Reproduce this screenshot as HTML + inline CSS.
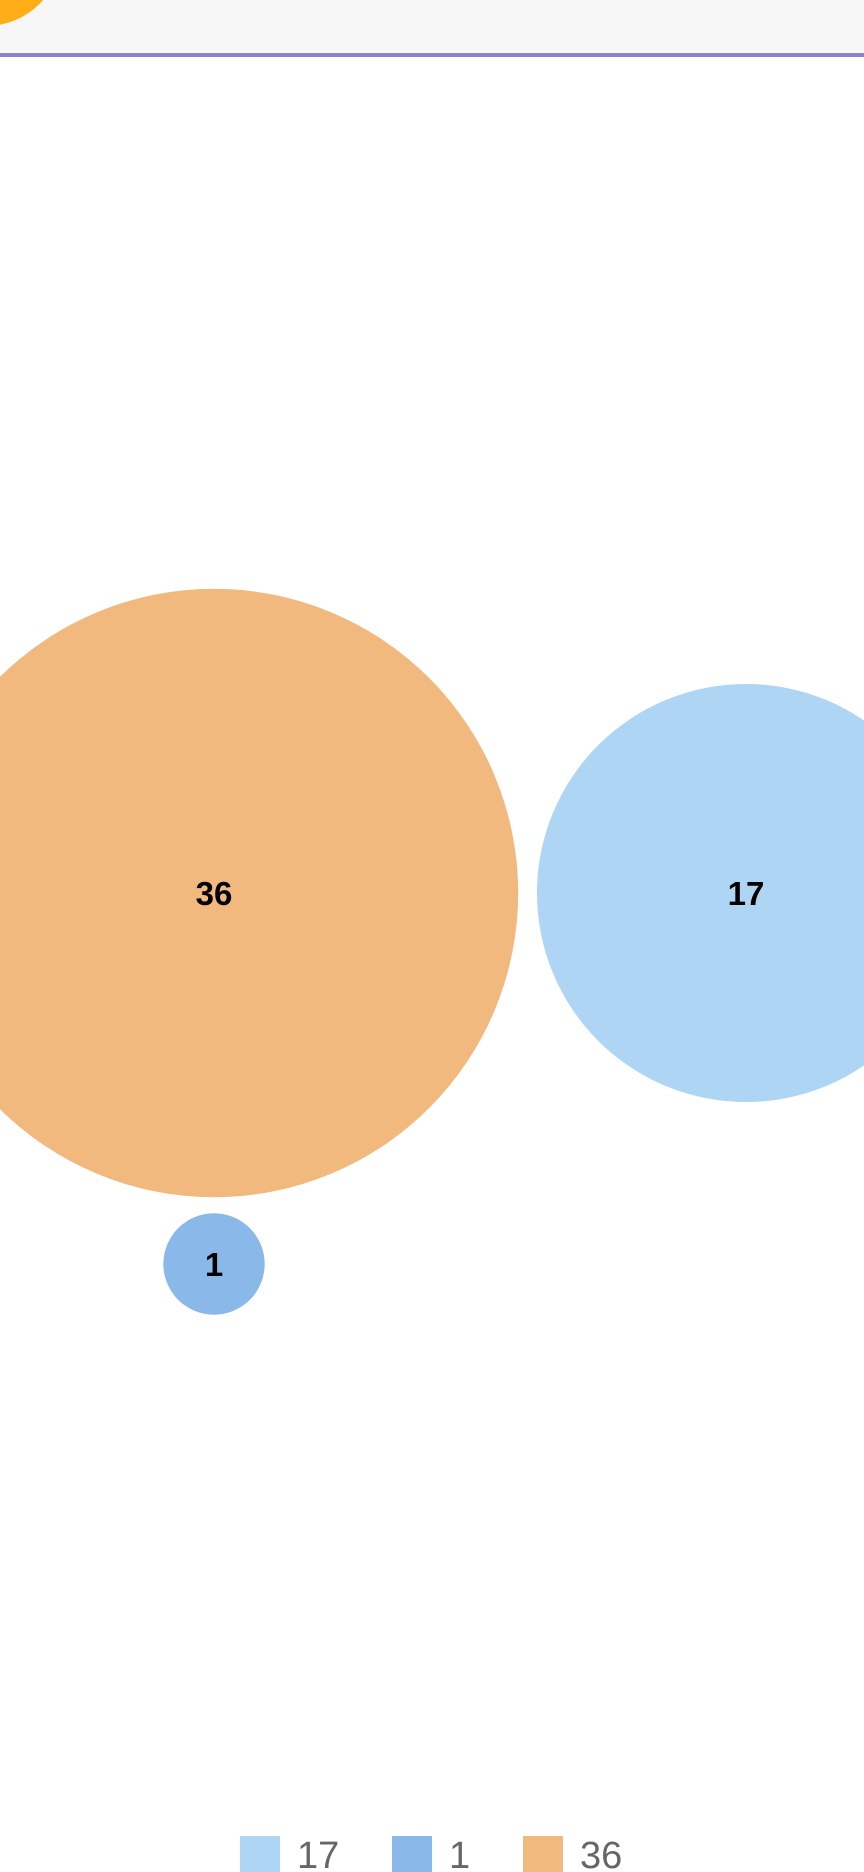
<!DOCTYPE html>
<html><head><meta charset="utf-8"><style>
html,body{margin:0;padding:0;width:864px;height:1872px;overflow:hidden;background:#fff;font-family:"Liberation Sans",sans-serif}
</style></head><body>
<svg width="864" height="1872">
<rect x="0" y="0" width="864" height="53" fill="#f7f7f7"/>
<circle cx="-14" cy="-50" r="76" fill="#ffae1a"/>
<rect x="0" y="53" width="864" height="4" fill="#8c7fd6"/>
<g id="bubbles"></g>
<g id="legend"></g>
</svg>
<script>
const labels=["17","1","36"];
const values=[17,1,36];
const colors=["#aed6f4","#8ab9e9","#f2b97f"];
const centersX=[746,214,214];
const centersY=[893,1264,893];
const k=50.7;
const g=document.getElementById('bubbles');
const ns="http://www.w3.org/2000/svg";
for(let i=0;i<values.length;i++){
  const c=document.createElementNS(ns,'circle');
  c.setAttribute('cx',centersX[i]);c.setAttribute('cy',centersY[i]);
  c.setAttribute('r',k*Math.sqrt(values[i]));c.setAttribute('fill',colors[i]);
  
  
  g.appendChild(c);
  const t=document.createElementNS(ns,'text');
  t.setAttribute('x',centersX[i]);t.setAttribute('y',centersY[i]+12);
  t.setAttribute('text-anchor','middle');t.setAttribute('font-size','33');
  t.setAttribute('font-weight','bold');t.setAttribute('fill','#000');
  t.textContent=values[i];
  
  
  g.appendChild(t);
}
const lg=document.getElementById('legend');
const lx=[240,392,523];
for(let i=0;i<labels.length;i++){
  const r=document.createElementNS(ns,'rect');
  r.setAttribute('x',lx[i]);r.setAttribute('y',1836);r.setAttribute('width',40);r.setAttribute('height',40);
  r.setAttribute('fill',colors[i]);
  
  
  lg.appendChild(r);
  const t=document.createElementNS(ns,'text');
  t.setAttribute('x',lx[i]+57);t.setAttribute('y',1868);
  t.setAttribute('font-size','38');t.setAttribute('fill','#666');
  t.textContent=labels[i];
  
  
  lg.appendChild(t);
}
</script>
</body></html>
